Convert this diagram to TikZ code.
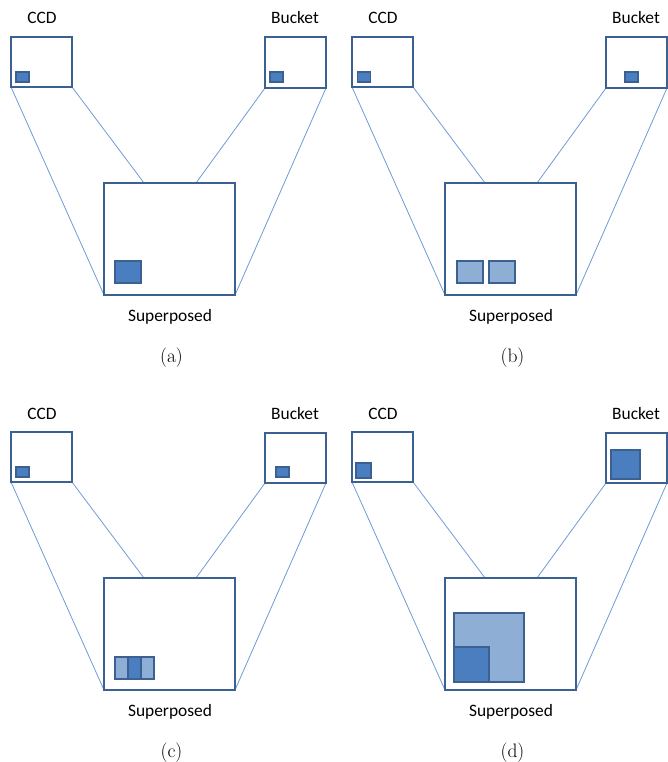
\documentclass[tikz,border=0pt]{standalone}
\usepackage{fontspec}
\usetikzlibrary{calc,backgrounds}
\newfontfamily\calib{Carlito}
\definecolor{boxline}{HTML}{3A6192}
\definecolor{thinline}{HTML}{6E9BD5}
\definecolor{darkfill}{HTML}{4A7EBF}
\definecolor{lightfill}{HTML}{8EAED6}
\tikzset{
  frame/.style={draw=boxline, line width=2pt, fill=white, rectangle, inner sep=0pt, outer sep=0pt},
  conn/.style={draw=thinline, line width=0.8pt},
  lab/.style={font=\calib\fontsize{17.4}{20}\selectfont, anchor=base, inner sep=0pt},
  captext/.style={font=\fontsize{19.5}{22}\selectfont, anchor=base, inner sep=0pt},
  dsq/.style={draw=boxline, line width=1.5pt, fill=darkfill},
  lsq/.style={draw=boxline, line width=1.5pt, fill=lightfill},
}
\newcommand\drawpanel[2]{%
  \node[frame, minimum width=61pt, minimum height=50pt] (#1ccd) at (41.5,62) {};
  \node[frame, minimum width=61pt, minimum height=50.5pt] (#1bkt) at (295.5,62.75) {};
  \node[frame, minimum width=131pt, minimum height=112pt] (#1sup) at (169.5,239) {};
  \coordinate (#1supa) at ($(#1sup.north west)+(40,0)$);
  \coordinate (#1supb) at ($(#1sup.north east)+(-39,0)$);
  \begin{scope}[on background layer]
    \draw[conn] (#1ccd.south west) -- (#1sup.south west);
    \draw[conn] (#1ccd.south east) -- (#1supa);
    \draw[conn] (#1bkt.south west) -- (#1supb);
    \draw[conn] (#1bkt.south east) -- (#1sup.south east);
  \end{scope}
  \node[lab] (#1ccdl) at (42,24) {CCD};
  \node[lab] (#1bktl) at (295,24) {Bucket};
  \node[lab] (#1supl) at (170,321) {Superposed};
  \node[captext] (#1cap) at (171.5,362) {(#2)};
}
\begin{document}
\begin{tikzpicture}[x=1pt,y=-1pt]
\useasboundingbox (0,0) rectangle (667,762);
% panel (a)
\begin{scope}
  \drawpanel{a}{a}
  \draw[dsq] (16,72) rectangle (29,82);
  \draw[dsq] (270,72) rectangle (283,82);
  \draw[dsq] (115,261) rectangle (141,283);
\end{scope}
% panel (b)
\begin{scope}[shift={(341,0)}]
  \drawpanel{b}{b}
  \draw[dsq] (16.5,72) rectangle (29.5,82);
  \draw[dsq] (284,72) rectangle (297,82);
  \draw[lsq] (116,261) rectangle (142,283);
  \draw[lsq] (148,261) rectangle (174,283);
\end{scope}
% panel (c)
\begin{scope}[shift={(0,395)}]
  \drawpanel{c}{c}
  \draw[dsq] (16,72) rectangle (29,82);
  \draw[dsq] (276,72) rectangle (289,82);
  \fill[lightfill] (115,262) rectangle (154,284);
  \draw[boxline, line width=1.5pt] (115,262) rectangle (154,284);
  \draw[dsq] (128,262) rectangle (141,284);
\end{scope}
% panel (d)
\begin{scope}[shift={(341,395)}]
  \drawpanel{d}{d}
  \draw[dsq] (15,68) rectangle (30,83);
  \draw[dsq] (270,55) rectangle (299,84);
  \draw[lsq] (113,218) rectangle (183,287);
  \draw[dsq] (113,252) rectangle (148,287);
\end{scope}
\end{tikzpicture}
\end{document}
